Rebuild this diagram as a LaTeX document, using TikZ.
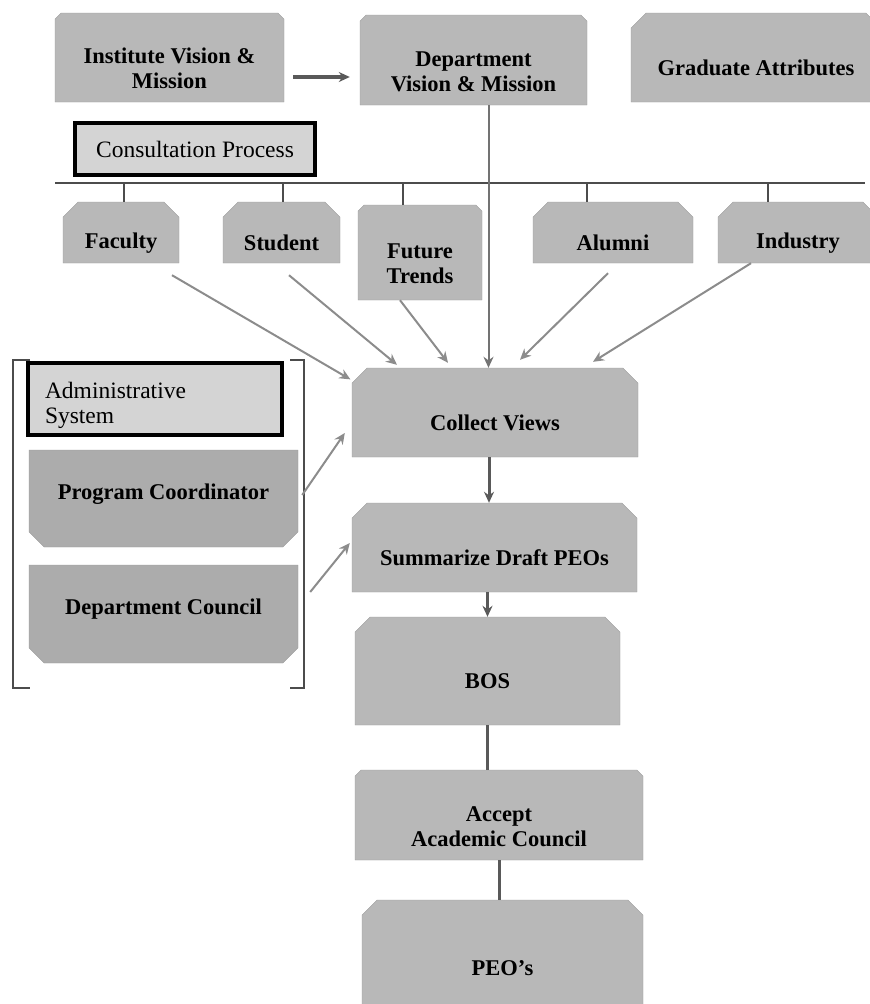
\documentclass[tikz,border=0pt]{standalone}
\usepackage{fontspec}
\setmainfont{Liberation Serif}
\usepackage{xcolor}
\usepackage{tikz}
\usetikzlibrary{shapes,arrows,arrows.meta}
\usetikzlibrary{shapes.misc}

\definecolor{boxfill}{RGB}{184,184,184}
\definecolor{panefill}{RGB}{212,212,212}
\definecolor{darkfill}{RGB}{172,172,172}

\newcommand{\twolines}[2]{\raisebox{-19pt}[0pt][0pt]{\begin{tabular}{@{}c@{}}#1\\#2\end{tabular}}}

\tikzset{
  blkbase/.style={chamfered rectangle,chamfered rectangle xsep=12pt,
    draw=black!40,fill=boxfill,inner sep=3pt,
    font=\fontsize{22.5}{25}\selectfont\bfseries},
  blktop/.style={blkbase,chamfered rectangle corners={north west,north east}},
  blk/.style={blktop,execute at begin node={\rule{0pt}{36pt}}},
  blkup/.style={blkbase,chamfered rectangle corners={south west,south east},fill=darkfill,
    execute at begin node={\rule[-14pt]{0pt}{1pt}}},
  frm/.style={rectangle,draw=black,line width=3.5pt,fill=panefill,
    font=\fontsize{23.5}{25}\selectfont},
  bus/.style={draw=black!70,line width=2.5pt},
  arr/.style={draw=black!45,line width=2pt,->},
  thk/.style={draw=black!65,line width=3pt},
  brk/.style={draw=black!70,line width=1.5pt}
}

\begin{document}
\begin{tikzpicture}[x=1pt,y=-1pt,>={Stealth[length=11pt,width=10pt]}]
\useasboundingbox (0,0) rectangle (870,1004);

\node[blktop,minimum width=229pt,minimum height=89pt] (v1) at (169.5,57.5) {\twolines{Institute Vision \&}{Mission}};
\node[blktop,minimum width=227pt,minimum height=90pt] (v2) at (473.5,60) {\twolines{Department}{Vision \& Mission}};
\node[blk,minimum width=250pt,minimum height=89pt] (v3) at (756,57.5) {Graduate Attributes};
\node[frm,minimum width=240pt,minimum height=52pt] (v4) at (195,149) {Consultation Process};

\node[blk,minimum width=116pt,minimum height=61pt] (v5) at (121,232.5) {Faculty};
\node[blk,minimum width=117pt,minimum height=61pt] (v6) at (281.5,232.5) {Student};
\node[blktop,minimum width=124pt,minimum height=95pt] (v7) at (420,252.5) {\twolines{Future}{Trends}};
\node[blk,minimum width=160pt,minimum height=61pt] (v8) at (613,232.5) {Alumni};
\node[blk,minimum width=160pt,minimum height=61pt] (v9) at (798,232.5) {Industry};

\node[blk,minimum width=286pt,minimum height=89pt] (v10) at (495,412.5) {Collect Views};
\node[blk,minimum width=285pt,minimum height=89pt] (v11) at (494.5,547.5) {Summarize Draft PEOs};
\node[blk,minimum width=265pt,minimum height=108pt] (v12) at (487.5,671) {BOS};
\node[blktop,minimum width=288pt,minimum height=90pt] (v13) at (499,815) {\twolines{Accept}{Academic Council}};
\node[blk,minimum width=281pt,minimum height=116pt] (v14) at (502.5,958) {PEO's};

\node[frm,text width=220pt,align=left,inner xsep=17pt,minimum height=72pt] (v15) at (155,399)
    {\raisebox{-13.5pt}[0pt][0pt]{\begin{tabular}{@{}l@{}}Administrative\\System\end{tabular}}};
\node[blkup,minimum width=269pt,minimum height=97pt] (v16) at (163.5,498.5) {Program Coordinator};
\node[blkup,minimum width=269pt,minimum height=98pt] (v17) at (163.5,614) {Department Council};

\draw[brk] (30,360) -- (13,360) -- (13,688) -- (30,688);
\draw[brk] (290,360) -- (304,360) -- (304,688) -- (290,688);

\draw[thk,->,line width=4pt,shorten <=9pt,shorten >=10pt] ([yshift=-19.5pt]v1.east) -- ([yshift=-19.5pt]v1.east -| v2.west);

\coordinate (b1) at (55,183);
\coordinate (b2) at (865,183);
\draw[bus] (b1) -- (b2);
\foreach \v/\dx in {5/3,6/1.5,7/-17,8/-26,9/-30}
    \draw[bus] ([xshift=\dx pt]v\v.north) -- ([xshift=\dx pt]v\v.north |- b1);

\draw[arr,draw=black!55] ([xshift=15pt]v2.south) -- ([xshift=15pt]v2.south |- v10.north);
\draw[arr] ([xshift=51pt,yshift=-12pt]v5.south) -- ([xshift=-9pt,yshift=-4pt]v10.north west);
\draw[arr] ([xshift=7.5pt,yshift=-12pt]v6.south) -- ([xshift=-98pt,yshift=3pt]v10.north);
\draw[arr] ([xshift=-20pt]v7.south) -- ([xshift=-47pt,yshift=5pt]v10.north);
\draw[arr] ([xshift=-5pt,yshift=-10pt]v8.south) -- ([xshift=25pt,yshift=8pt]v10.north);
\draw[arr] ([xshift=-47pt]v9.south) -- ([xshift=98pt,yshift=6pt]v10.north);
\draw[arr] ([xshift=4pt,yshift=3.5pt]v16.east) -- ([xshift=-7pt,yshift=-20.5pt]v10.west);
\draw[arr] ([xshift=12pt,yshift=22pt]v17.east) -- ([xshift=-2pt,yshift=4.5pt]v11.west);

\draw[thk,->] ([xshift=-6pt]v10.south) -- ([xshift=-6pt]v10.south |- v11.north);
\draw[thk,->] (v11.south -| v12.north) -- (v12.north);
\draw[thk] (v12.south) -- (v12.south |- v13.north);
\draw[thk] (v13.south) -- (v13.south |- v14.north);

\end{tikzpicture}
\end{document}
